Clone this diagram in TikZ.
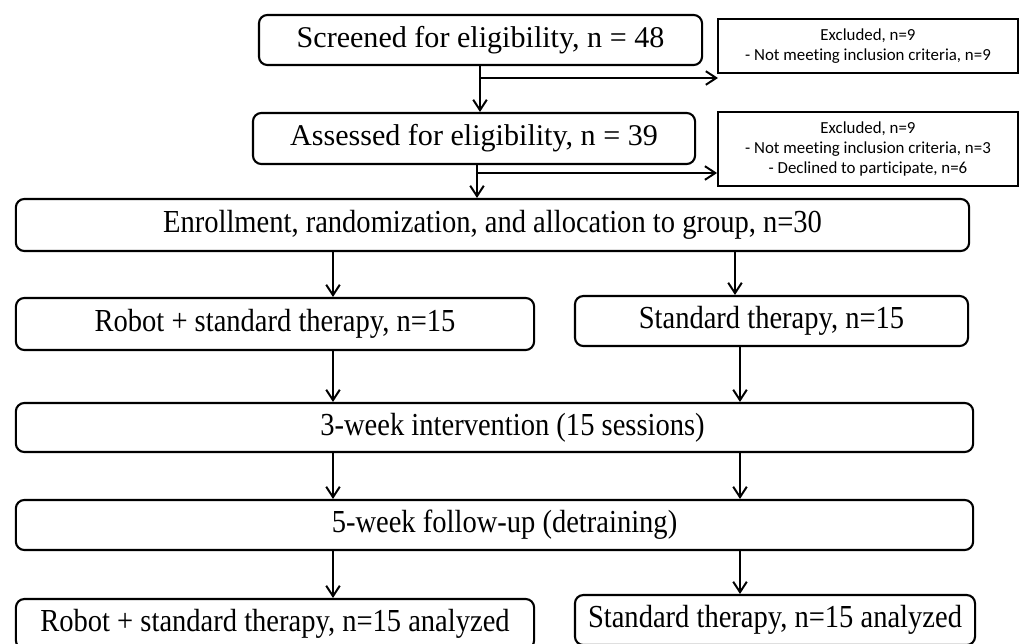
\documentclass[tikz,border=0pt]{standalone}
\usepackage{fontspec}
\setmainfont{Liberation Serif}
\newfontfamily\exclfont[Ligatures=NoCommon]{Carlito}
\newfontfamily\condfont[FakeStretch=0.89]{Liberation Serif}
\usetikzlibrary{arrows,arrows.meta}

\begin{document}
\begin{tikzpicture}[x=0.025cm, y=-0.025cm,
  box/.style={draw, line width=1.5pt, rounded corners=6pt, inner sep=0pt, font=\fontsize{21.4}{24}\selectfont},
  cbox/.style={box, font=\fontsize{22.8}{26}\selectfont\condfont},
  exbox/.style={draw, line width=1.2pt, inner sep=0pt, align=center, font=\fontsize{12}{14.5}\selectfont\exclfont},
  arr/.style={black, line width=1.4pt, -{Straight Barb[length=2.6mm, width=3.4mm]}}]
\useasboundingbox (0,0) rectangle (1020,644);
% screening
\node[box, minimum width=11.075cm, minimum height=1.25cm] (scr) at (480.5,40) {Screened for eligibility, n = 48};
\node[box, minimum width=11.05cm, minimum height=1.275cm] (ass) at (474,138.5) {Assessed for eligibility, n = 39};
\node[exbox, minimum width=7.5cm, minimum height=1.35cm] (ex1) at (868,46) {Excluded, n=9\\- Not meeting inclusion criteria, n=9};
\node[exbox, minimum width=7.5cm, minimum height=1.85cm] (ex2) at (868,149) {Excluded, n=9\\- Not meeting inclusion criteria, n=3\\- Declined to participate, n=6};
% allocation
\node[cbox, minimum width=23.825cm, minimum height=1.3cm] (enr) at (492.5,225) {Enrollment, randomization, and allocation to group, n=30};
\node[cbox, minimum width=12.95cm, minimum height=1.3cm] (rob) at (275,324) {Robot + standard therapy, n=15};
\node[cbox, minimum width=9.825cm, minimum height=1.25cm] (std) at (771.5,321) {Standard therapy, n=15};
\node[cbox, minimum width=23.925cm, minimum height=1.225cm] (int) at (494.5,427.5) {\hspace*{0.9cm}3-week intervention (15 sessions)};
\node[cbox, minimum width=23.925cm, minimum height=1.25cm] (fol) at (494.5,525) {\hspace*{0.5cm}5-week follow-up (detraining)};
\node[cbox, minimum width=12.95cm, minimum height=1.25cm] (roba) at (275,624) {Robot + standard therapy, n=15 analyzed};
\node[cbox, minimum width=10cm, minimum height=1.25cm] (stda) at (775,620) {Standard therapy, n=15 analyzed};

\coordinate (b1) at (480,78);
\coordinate (b2) at (477,173);
\coordinate (t1) at (718,78);
\coordinate (colL) at (333,0);
\coordinate (colR) at (740,0);
\coordinate (colE) at (735,0);

\draw[arr] (scr.south -| b1) -- (ass.north -| b1);
\draw[arr] (b1) -- (t1);
\draw[arr] (ass.south -| b2) -- (enr.north -| b2);
\draw[arr] (b2) -- (ex2.west |- b2);
\draw[arr] (enr.south -| colL) -- (rob.north -| colL);
\draw[arr] (enr.south -| colE) -- (std.north -| colE);
\draw[arr] (rob.south -| colL) -- (int.north -| colL);
\draw[arr] (std.south -| colR) -- (int.north -| colR);
\foreach \c in {colL, colR}
  \draw[arr] (int.south -| \c) -- (fol.north -| \c);
\draw[arr] (fol.south -| colL) -- (roba.north -| colL);
\draw[arr] (fol.south -| colR) -- (stda.north -| colR);
\end{tikzpicture}
\end{document}
